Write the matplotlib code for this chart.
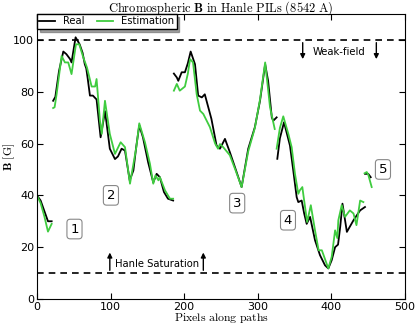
import matplotlib
matplotlib.use("Agg")
import matplotlib.pyplot as plt

plt.rcParams['mathtext.fontset'] = 'cm'
plt.rcParams['font.family'] = ['DejaVu Sans']

# ---- data ----
real_x1 = [0, 5, 10, 15, 20]
real_y1 = [40, 38, 34, 30, 30]
est_x1 = [0, 5, 10, 15, 20]
est_y1 = [40, 37, 32, 26, 29]

real_x2 = [22, 25, 30, 35.8, 40, 45, 47, 52.5, 58, 62, 65, 67, 69, 72, 76, 81, 86.5, 92.5, 99, 106, 110,
           115, 119.6, 126, 131, 135, 139, 144, 151, 158, 162.6, 167, 172.5, 178, 185]
real_y2 = [76.5, 78, 88, 95.5, 94.5, 92.6, 91.3, 101, 98.3, 95, 90.6, 89, 85, 78.5, 78.5, 77, 62.4, 72.5, 58, 54, 55,
           58, 57.3, 45.8, 49.6, 59, 67, 62.4, 52.8, 45, 48.3, 47, 41.3, 38.7, 38]
est_x2 = [22, 24, 26.7, 33.5, 38, 42.5, 47, 53, 57.5, 63, 68, 74.3, 79, 81, 85.6, 88, 92.4, 99, 106, 113.7,
          119.6, 126.4, 131, 135, 139, 146.7, 153.5, 158, 161, 165, 167, 174, 180.7, 185]
est_y2 = [73.7, 74, 79, 93.8, 91.3, 91.3, 86.8, 98.3, 98.3, 93.2, 89.3, 82, 82, 84.9, 68.8, 63.7, 76.5, 63.7, 56, 60.5,
          58.6, 44.5, 52, 58.6, 67.8, 60.5, 52.2, 44.5, 47.7, 45.8, 47, 41.9, 38.7, 38.7]

real_x3 = [186, 190, 192, 196.6, 201, 205, 208.8, 214.7, 219, 224, 228, 237, 244, 248.6, 255.4, 262, 270, 278,
           287, 296, 303, 310, 314, 319, 321, 325.6]
real_y3 = [87, 85.5, 84.2, 87.5, 87.5, 91, 95.5, 90.6, 78.5, 77.8, 79, 69.5, 59.2, 58, 61.8, 56.7, 50, 43.2,
           58, 66.3, 76.5, 90.6, 84.2, 70.1, 68.8, 70.1]
est_x3 = [186, 190, 194, 201, 205, 208, 212, 217, 221.5, 226, 235, 242, 246, 248.6, 253, 262, 270, 278, 287,
          296, 303, 310, 316.6, 323]
est_y3 = [80.4, 83, 80.4, 82, 87, 92.6, 91.3, 79, 72.7, 71.4, 66.3, 60, 58, 59.8, 58.6, 55.5, 49.5, 43.2, 57,
          66, 77, 91.3, 74, 65.6]

real_x4 = [326.5, 330, 335.6, 343.7, 348, 352.8, 355, 359.6, 363, 366.4, 371, 377.7, 384.5, 391.3, 395.8,
           400.4, 405, 409, 412, 415, 421, 430, 439, 445.6]
real_y4 = [54.1, 62, 68.2, 59.2, 50, 39.3, 37.4, 38, 33, 29, 31.7, 22.7, 16.9, 13, 11.8,
           15, 20, 21, 28, 36.8, 25.9, 30.4, 34.2, 35.5]
est_x4 = [325.6, 330, 334.6, 341.5, 346, 350.5, 355, 357, 360.5, 362, 367, 372, 377.7, 382.6, 387, 395.8,
          400.4, 405, 408, 409.4, 414, 418.5, 425, 430, 434, 439, 443.4]
est_y4 = [58, 66, 70.5, 63.7, 58.6, 48.3, 40.6, 41.9, 43.2, 40, 29.7, 36.2, 26.5, 18.8, 18.8, 11.8,
          16.3, 26.5, 23.5, 30.4, 36.2, 31.7, 34.2, 33, 28.5, 38, 37.4]

real_x5 = [445.6, 450, 453.4]
real_y5 = [48.3, 48.3, 47]
est_x5 = [445, 448, 450, 454.7]
est_y5 = [48.5, 49, 48, 43.2]

path_labels = ['1', '2', '3', '4', '5']
label_x = [51, 100.5, 272, 341, 470]
label_y = [27, 40, 37, 30.4, 50]

weak_level = 100
sat_level = 10

GREEN = '#3fcc3f'

fig = plt.figure(figsize=(4.15, 3.25), dpi=100)
ax = fig.add_axes([0.089, 0.08, 0.887, 0.877])

segs = [(real_x1, real_y1, est_x1, est_y1), (real_x2, real_y2, est_x2, est_y2),
        (real_x3, real_y3, est_x3, est_y3), (real_x4, real_y4, est_x4, est_y4),
        (real_x5, real_y5, est_x5, est_y5)]
for i, (rx, ry, ex, ey) in enumerate(segs):
    ax.plot(rx, ry, color='black', lw=1.3, label='Real' if i == 0 else None)
    ax.plot(ex, ey, color=GREEN, lw=1.3, label='Estimation' if i == 0 else None)

ax.axhline(weak_level, color='black', ls='--', lw=1.2, dashes=(4, 3))
ax.axhline(sat_level, color='black', ls='--', lw=1.2, dashes=(4, 3))

arr = dict(arrowstyle='-|>', color='black', lw=1.0, mutation_scale=7)
for xa in [361, 461]:
    ax.annotate('', xy=(xa, 91.5), xytext=(xa, 100), arrowprops=arr)
for xa in [99, 226]:
    ax.annotate('', xy=(xa, 19), xytext=(xa, 10), arrowprops=arr)
ax.text(411, 95.5, 'Weak-field', ha='center', va='center', fontsize=7.2)
ax.text(162.5, 13.5, 'Hanle Saturation', ha='center', va='center', fontsize=7.2)

for t, xx, yy in zip(path_labels, label_x, label_y):
    ax.text(xx, yy, t, ha='center', va='center', fontsize=9.5,
            bbox=dict(boxstyle='round,pad=0.25', fc='white', ec='#888888', lw=0.8))

ax.set_xlim(0, 500)
ax.set_ylim(0, 110)
ax.set_xticks([0, 100, 200, 300, 400, 500])
ax.set_yticks([0, 20, 40, 60, 80, 100])
ax.tick_params(direction='in', top=True, right=True, labelsize=8, length=4, pad=2)

ax.set_title(r'$\mathrm{Chromospheric}\ \mathbf{B}\ \mathrm{in\ Hanle\ PILs\ (8542\ A)}$', fontsize=9, pad=2)
ax.set_xlabel(r'$\mathrm{Pixels\ along\ paths}$', fontsize=8.5, va='center')
ax.set_ylabel(r'$\mathbf{B}\ \mathrm{[G]}$', fontsize=8.5, va='center', ha='center')
ax.xaxis.set_label_coords(0.5, -0.068)
ax.yaxis.set_label_coords(-0.075, 0.5)

leg = ax.legend(loc='upper left', ncol=2, fontsize=7.2, fancybox=False, shadow=True,
                borderaxespad=0.0, handlelength=1.6, columnspacing=1.2, borderpad=0.25,
                handletextpad=0.8, framealpha=1)
leg.get_frame().set_edgecolor('black')

fig.savefig('out.png', dpi=100)
